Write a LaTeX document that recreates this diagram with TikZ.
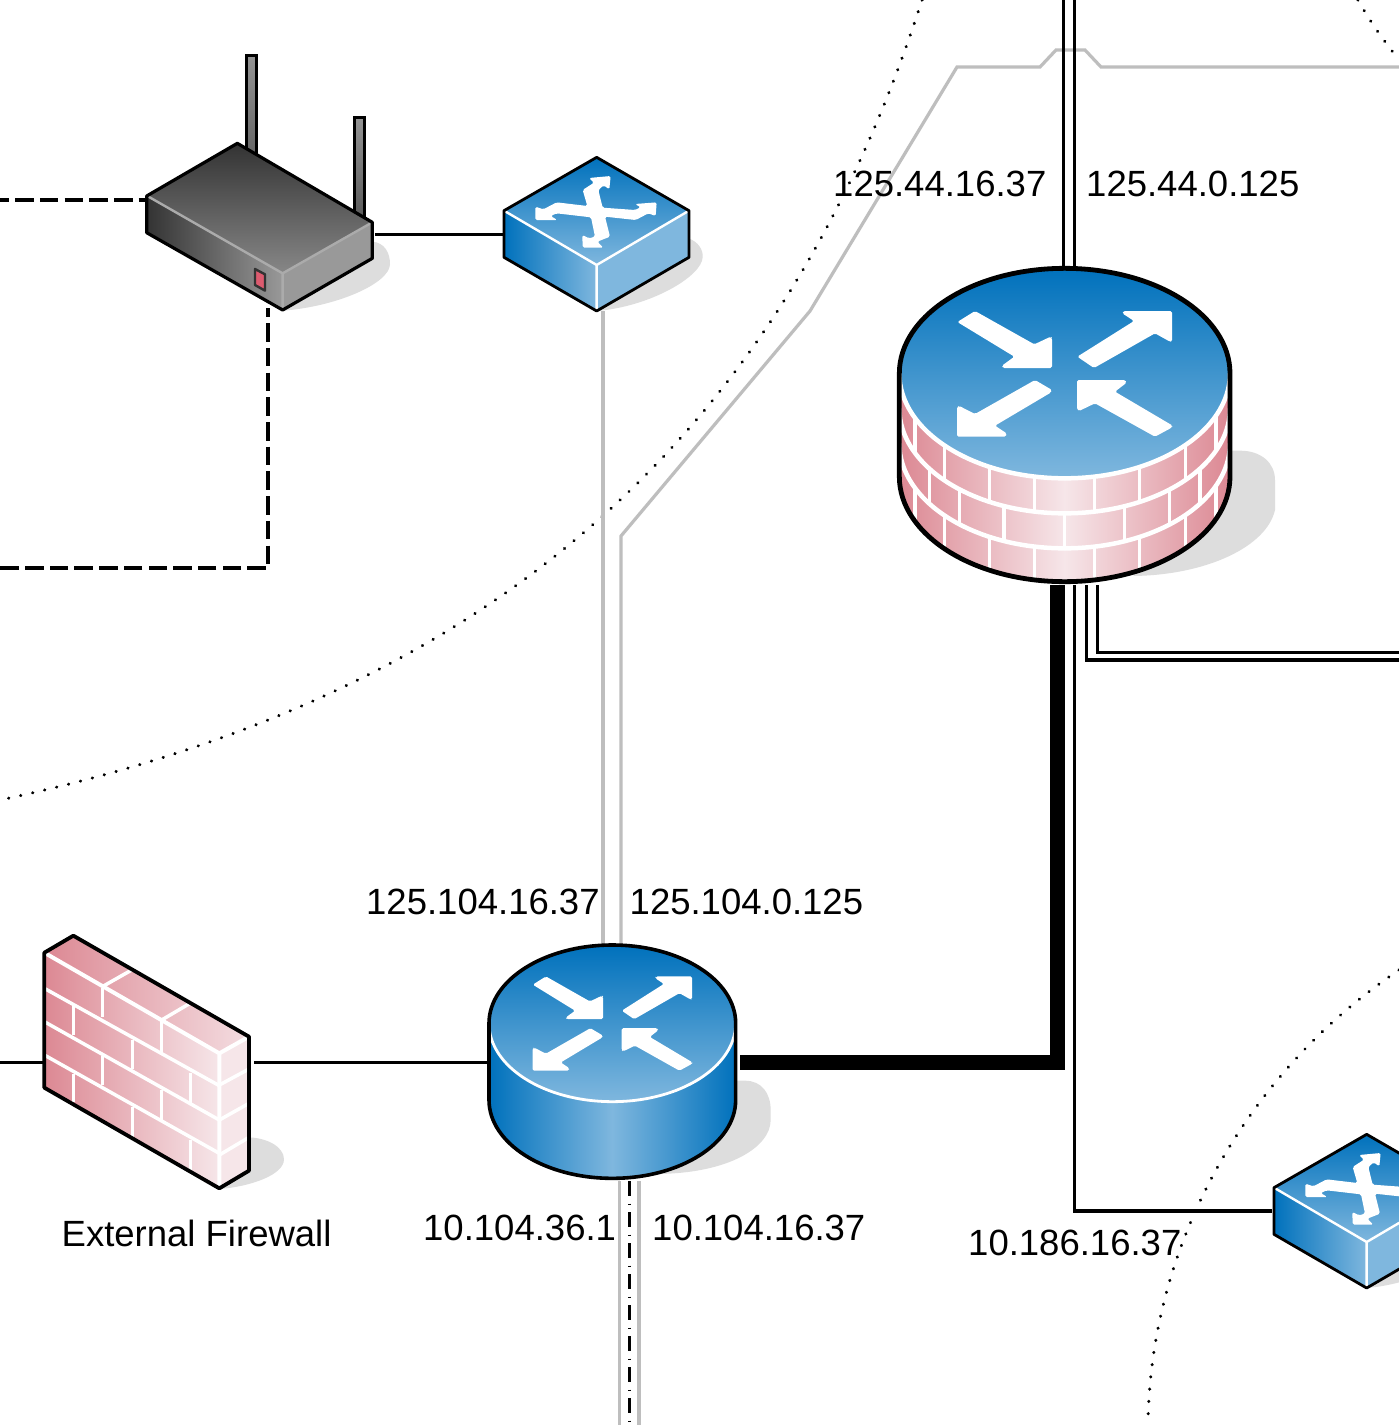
\documentclass[tikz,border=0pt]{standalone}
\usepackage{fontspec}
\setmainfont{Liberation Sans}
\definecolor{swdark}{HTML}{0071BC}
\definecolor{swlight}{HTML}{7FB7DE}
\definecolor{brickdark}{HTML}{DC8893}
\definecolor{bricklight}{HTML}{F6E6E9}
\definecolor{shadowgray}{HTML}{DDDDDD}
\definecolor{linkgray}{HTML}{BEBEBE}
\definecolor{ledred}{HTML}{DD5B6F}
\tikzset{
  blackline/.style={draw=black,line width=3.3pt,line join=miter},
  grayline/.style={draw=linkgray,line width=3.2pt,line join=miter},
  dashline/.style={draw=black,line width=3.4pt,dash pattern=on 18.5pt off 6.2pt,dash phase=9.5pt},
  dashdotline/.style={draw=black,line width=3.4pt,dash pattern=on 15pt off 7.5pt on 1pt off 7.5pt},
  dotline/.style={draw=black,line width=3.3pt,line cap=round,dash pattern=on 0.1pt off 12.2pt},
  trunk/.style={draw=black,line width=15pt,line join=miter},
  iplabel/.style={anchor=base west,inner sep=0pt,font=\fontsize{36.5}{40}\selectfont},
  shadowfill/.style={fill=shadowgray,draw=none},
  edgeblack/.style={draw=black,line width=#1,line join=round},
  edgewhite/.style={draw=white,line width=#1},
  arrowfill/.style={fill=white,draw=none,rounded corners=1.6pt}
}
\newcommand{\switchicon}{%
  \begin{scope}[shift={(490,140)},x=0.33333pt,y=-0.33333pt]
    \fill[shadowfill] (595,295) .. controls (625,305) and (640,330) .. (638,352) .. controls (635,410) and (480,500) .. (320,513) -- cycle;
    \shade[top color=swdark,bottom color=swlight] (320,52) -- (42,212) -- (320,375) -- (597,212) -- cycle;
    \shade[left color=swdark,right color=swlight] (42,212) -- (320,375) -- (320,513) -- (42,352) -- cycle;
    \fill[swlight] (597,212) -- (320,375) -- (320,513) -- (597,352) -- cycle;
    \fill[arrowfill] (278,150) -- (312,128) -- (297,114) -- (362,108) -- (358,148) -- (341,136) -- (325,150) -- (338,203) -- (435,210) -- (452,202) -- (435,192) -- (500,187) -- (497,228) -- (475,220) -- (437,240) -- (345,230) -- (360,290) -- (322,305) -- (340,323) -- (278,323) -- (277,285) -- (297,295) -- (315,290) -- (303,232) -- (200,220) -- (182,228) -- (202,240) -- (136,240) -- (136,200) -- (160,208) -- (200,187) -- (292,198) -- cycle;
    \draw[edgewhite=2.4pt] (42,212) -- (320,375) -- (597,212) (320,375) -- (320,513);
    \draw[edgeblack=2.8pt] (320,52) -- (597,212) -- (597,352) -- (320,513) -- (42,352) -- (42,212) -- cycle;
  \end{scope}}
\newcommand{\routerarrows}{%
  \begin{scope}[shift={(-555,-372)}]
    \fill[arrowfill] (232,216) -- (285,183) -- (463,283) -- (512,260) -- (516,264) -- (516,354) -- (368,354) -- (366,347) -- (403,320) -- cycle;
    \fill[arrowfill] (592,320) -- (762,213) -- (727,190) -- (730,183) -- (876,183) -- (876,275) -- (870,275) -- (825,250) -- (642,354) -- cycle;
    \fill[arrowfill] (465,390) -- (516,420) -- (512,428) -- (345,527) -- (380,550) -- (378,560) -- (231,560) -- (231,470) -- (238,468) -- (285,492) -- cycle;
    \fill[arrowfill] (591,390) -- (736,390) -- (740,398) -- (705,425) -- (878,527) -- (875,533) -- (825,560) -- (645,460) -- (597,483) -- (591,478) -- cycle;
  \end{scope}}
\newcommand{\brickv}[2]{%
  \pgfmathsetmacro{\brya}{#2+315*sqrt(1-((#1-555)/496)^2)}%
  \pgfmathsetmacro{\bryb}{\brya+105}%
  \draw[edgewhite=3.5pt] (#1,\brya) -- (#1,\bryb);}
\begin{document}
\begin{tikzpicture}[x=1pt,y=-1pt]
\path[use as bounding box,fill=white] (0,0) rectangle (1399,1425);
\clip (0,0) rectangle (1399,1425);

% connector end points
\coordinate (wanL) at (0,200);
\coordinate (wifiW) at (146,200);
\coordinate (wifiS) at (268,308);
\coordinate (dashC) at (268,568);
\coordinate (dashL) at (0,568);
\coordinate (wifiE) at (375,234.5);
\coordinate (swW) at (503,234.5);
\coordinate (swS) at (603,311);
\coordinate (rtN1) at (603,945);
\coordinate (rtN2) at (621,945);
\coordinate (g1) at (621,536);
\coordinate (g2) at (810,311);
\coordinate (g3) at (957,67);
\coordinate (g4) at (1040,67);
\coordinate (g5) at (1056,50);
\coordinate (g6) at (1085,50);
\coordinate (g7) at (1101,67);
\coordinate (g8) at (1399,67);
\coordinate (t1) at (1063.5,0);
\coordinate (t2) at (1074.5,0);
\coordinate (fwN1) at (1063.5,270);
\coordinate (fwN2) at (1074.5,270);
\coordinate (fwS0) at (1057,585);
\coordinate (tk) at (1057,1062.5);
\coordinate (rtE) at (740,1062.5);
\coordinate (fwS1) at (1074.5,585);
\coordinate (c1) at (1074.5,1211);
\coordinate (sw2W) at (1272,1211);
\coordinate (fwS2) at (1086.7,585);
\coordinate (c2) at (1086.7,660);
\coordinate (r2) at (1399,660);
\coordinate (fwS3) at (1097.7,585);
\coordinate (c3) at (1097.7,652.5);
\coordinate (r3) at (1399,652.5);
\coordinate (leftW) at (0,1062.5);
\coordinate (wallW) at (43,1062.5);
\coordinate (wallE) at (254,1062.5);
\coordinate (rtW) at (488,1062.5);
\coordinate (rtS1) at (619.5,1181);
\coordinate (rtS2) at (629.5,1181);
\coordinate (rtS3) at (639,1181);
\coordinate (b1) at (619.5,1425);
\coordinate (b2) at (629.5,1425);
\coordinate (b3) at (639,1425);

% dotted zone boundaries
\draw[dotline] (922,0) .. controls (790,410) and (520,690) .. (0,800);
\draw[dotline] (1358,0) .. controls (1372,25) and (1385,42) .. (1399,60);
\draw[dotline] (1399,970) .. controls (1250,1070) and (1150,1240) .. (1148,1425);

% connectors
\draw[dashline] (wanL) -- (wifiW);
\draw[dashline] (wifiS) -- (dashC) -- (dashL);
\draw[blackline] (wifiE) -- (swW);
\draw[grayline] (swS) -- (rtN1);
\draw[grayline] (rtN2) -- (g1) -- (g2) -- (g3) -- (g4) -- (g5) -- (g6) -- (g7) -- (g8);
\draw[blackline] (t1) -- (fwN1);
\draw[blackline] (t2) -- (fwN2);
\draw[trunk] (fwS0) -- (tk) -- (rtE);
\draw[blackline] (fwS1) -- (c1) -- (sw2W);
\draw[blackline] (fwS2) -- (c2) -- (r2);
\draw[blackline] (fwS3) -- (c3) -- (r3);
\draw[blackline] (leftW) -- (wallW);
\draw[blackline] (wallE) -- (rtW);
\draw[grayline] (rtS1) -- (b1);
\draw[grayline] (rtS3) -- (b3);
\draw[dashdotline] (rtS2) -- (b2);

% wireless router
\begin{scope}[shift={(130,40)},x=0.33333pt,y=-0.33333pt]
  \fill[shadowfill] (727,605) .. controls (765,608) and (780,640) .. (780,672) .. controls (780,730) and (620,800) .. (458,812) -- cycle;
  \shade[top color=black!42,bottom color=black!60,draw=black,line width=3pt] (348,45) rectangle (378,345);
  \shade[top color=black!42,bottom color=black!65,draw=black,line width=3pt] (672,232) rectangle (702,535);
  \shade[top color=black!80,bottom color=black!47] (322,310) -- (52,468) -- (458,700) -- (727,547) -- cycle;
  \shade[left color=black!80,right color=black!40] (52,468) -- (458,700) -- (458,810) -- (50,578) -- cycle;
  \fill[black!40] (727,547) -- (458,700) -- (458,810) -- (727,655) -- cycle;
  \draw[draw=black!33,line width=2.4pt] (52,468) -- (458,700) -- (727,547) (458,700) -- (458,810);
  \draw[edgeblack=3.2pt] (322,310) -- (727,547) -- (727,655) -- (458,810) -- (50,578) -- (50,468) -- cycle;
  \draw[fill=ledred,draw=black!80,line width=2.4pt,line join=round] (375,687) -- (405,703) -- (405,752) -- (375,735) -- cycle;
\end{scope}

% first switch
\switchicon

% firewall router (large)
\begin{scope}[shift={(880,250)},x=0.33333pt,y=-0.33333pt]
  \fill[shadowfill] (1040,602) -- (1080,602) .. controls (1145,602) and (1185,640) .. (1185,690) -- (1185,780) .. controls (1160,890) and (980,975) .. (760,978) -- cycle;
  \shade[left color=brickdark,right color=brickdark,middle color=bricklight] (58,370) -- (58,680) arc[start angle=180,end angle=0,x radius=496,y radius=315] -- (1050,370) -- cycle;
  \begin{scope}
    \clip (58,370) -- (58,680) arc[start angle=180,end angle=0,x radius=496,y radius=315] -- (1050,370) -- cycle;
    \draw[edgewhite=4.5pt] (58,475) arc[start angle=180,end angle=0,x radius=496,y radius=315];
    \draw[edgewhite=4.5pt] (58,580) arc[start angle=180,end angle=0,x radius=496,y radius=315];
    \foreach \bx in {105,193,328,463,643,778,916,1008} {\brickv{\bx}{370}}
    \foreach \bx in {148,238,372,553,733,868,960} {\brickv{\bx}{475}}
    \foreach \bx in {105,193,328,463,643,778,916,1008} {\brickv{\bx}{580}}
  \end{scope}
  \shade[top color=swdark,bottom color=swlight] (554,370) ellipse [x radius=496,y radius=315];
  \draw[edgewhite=4.5pt] (58,370) arc[start angle=180,end angle=0,x radius=496,y radius=315];
  \begin{scope}[shift={(555,372)}]
    \routerarrows
  \end{scope}
  \draw[edgeblack=4.8pt] (58,370) arc[start angle=180,end angle=360,x radius=496,y radius=315] -- (1050,680) arc[start angle=0,end angle=180,x radius=496,y radius=315] -- cycle;
\end{scope}

% firewall wall
\begin{scope}[shift={(20,920)},x=0.33333pt,y=-0.33333pt]
  \fill[shadowfill] (680,652) .. controls (740,652) and (792,680) .. (792,718) .. controls (792,765) and (690,800) .. (598,807) -- cycle;
  \shade[left color=brickdark,right color=bricklight] (73,98) -- (598,400) -- (598,805) -- (73,503) -- cycle;
  \shade[left color=brickdark,right color=bricklight!90!brickdark] (73,98) -- (160,47) -- (687,350) -- (598,400) -- cycle;
  \fill[bricklight] (598,400) -- (687,350) -- (687,752) -- (598,805) -- cycle;
  \draw[edgewhite=3.5pt] (73,205) -- (598,497) (73,305) -- (598,600) (73,405) -- (598,700);
  \draw[edgewhite=3.5pt] (247,205) -- (247,292) (425,300) -- (425,395);
  \draw[edgewhite=3.5pt] (160,252) -- (160,345) (338,360) -- (338,447) (512,460) -- (512,550);
  \draw[edgewhite=3.5pt] (247,408) -- (247,495) (425,510) -- (425,600);
  \draw[edgewhite=3.5pt] (160,462) -- (160,545) (338,562) -- (338,650) (512,660) -- (512,750);
  \draw[edgewhite=3.5pt] (247,200) -- (335,150) (425,300) -- (510,250);
  \draw[edgewhite=3.5pt] (598,495) -- (687,447) (598,600) -- (687,550) (598,705) -- (687,652);
  \draw[edgewhite=4pt] (73,98) -- (598,400) -- (687,350) (598,400) -- (598,805);
  \draw[edgeblack=3.8pt] (73,98) -- (160,47) -- (687,350) -- (687,752) -- (598,805) -- (73,503) -- cycle;
\end{scope}

% small router
\begin{scope}[shift={(470,930)},x=0.33333pt,y=-0.33333pt]
  \fill[shadowfill] (780,452) -- (825,452) .. controls (875,452) and (902,490) .. (902,540) -- (902,570) .. controls (902,650) and (780,730) .. (560,732) -- cycle;
  \shade[left color=swdark,right color=swdark,middle color=swlight] (57,280) -- (57,510) arc[start angle=180,end angle=0,x radius=370,y radius=235] -- (797,280) -- cycle;
  \shade[top color=swdark,bottom color=swlight] (427,280) ellipse [x radius=370,y radius=235];
  \draw[edgewhite=2.8pt] (57,280) arc[start angle=180,end angle=0,x radius=370,y radius=235];
  \begin{scope}[shift={(428,281)},x=0.2473pt,y=-0.25pt]
    \routerarrows
  \end{scope}
  \draw[edgeblack=3.6pt] (57,280) arc[start angle=180,end angle=360,x radius=370,y radius=235] -- (797,510) arc[start angle=0,end angle=180,x radius=370,y radius=235] -- cycle;
\end{scope}

% second switch
\begin{scope}[shift={(770,977)}]
  \switchicon
\end{scope}

% labels
\node[iplabel] (lblA) at (833,196) {125.44.16.37};
\node[iplabel] (lblB) at (1086,196) {125.44.0.125};
\node[iplabel] (lblC) at (366,914) {125.104.16.37};
\node[iplabel] (lblD) at (629.5,914) {125.104.0.125};
\node[iplabel] (lblE) at (423,1240) {10.104.36.1};
\node[iplabel] (lblF) at (652,1240) {10.104.16.37};
\node[iplabel] (lblG) at (968,1255) {10.186.16.37};
\node[iplabel] (lblH) at (61.5,1246) {External Firewall};
\end{tikzpicture}
\end{document}
